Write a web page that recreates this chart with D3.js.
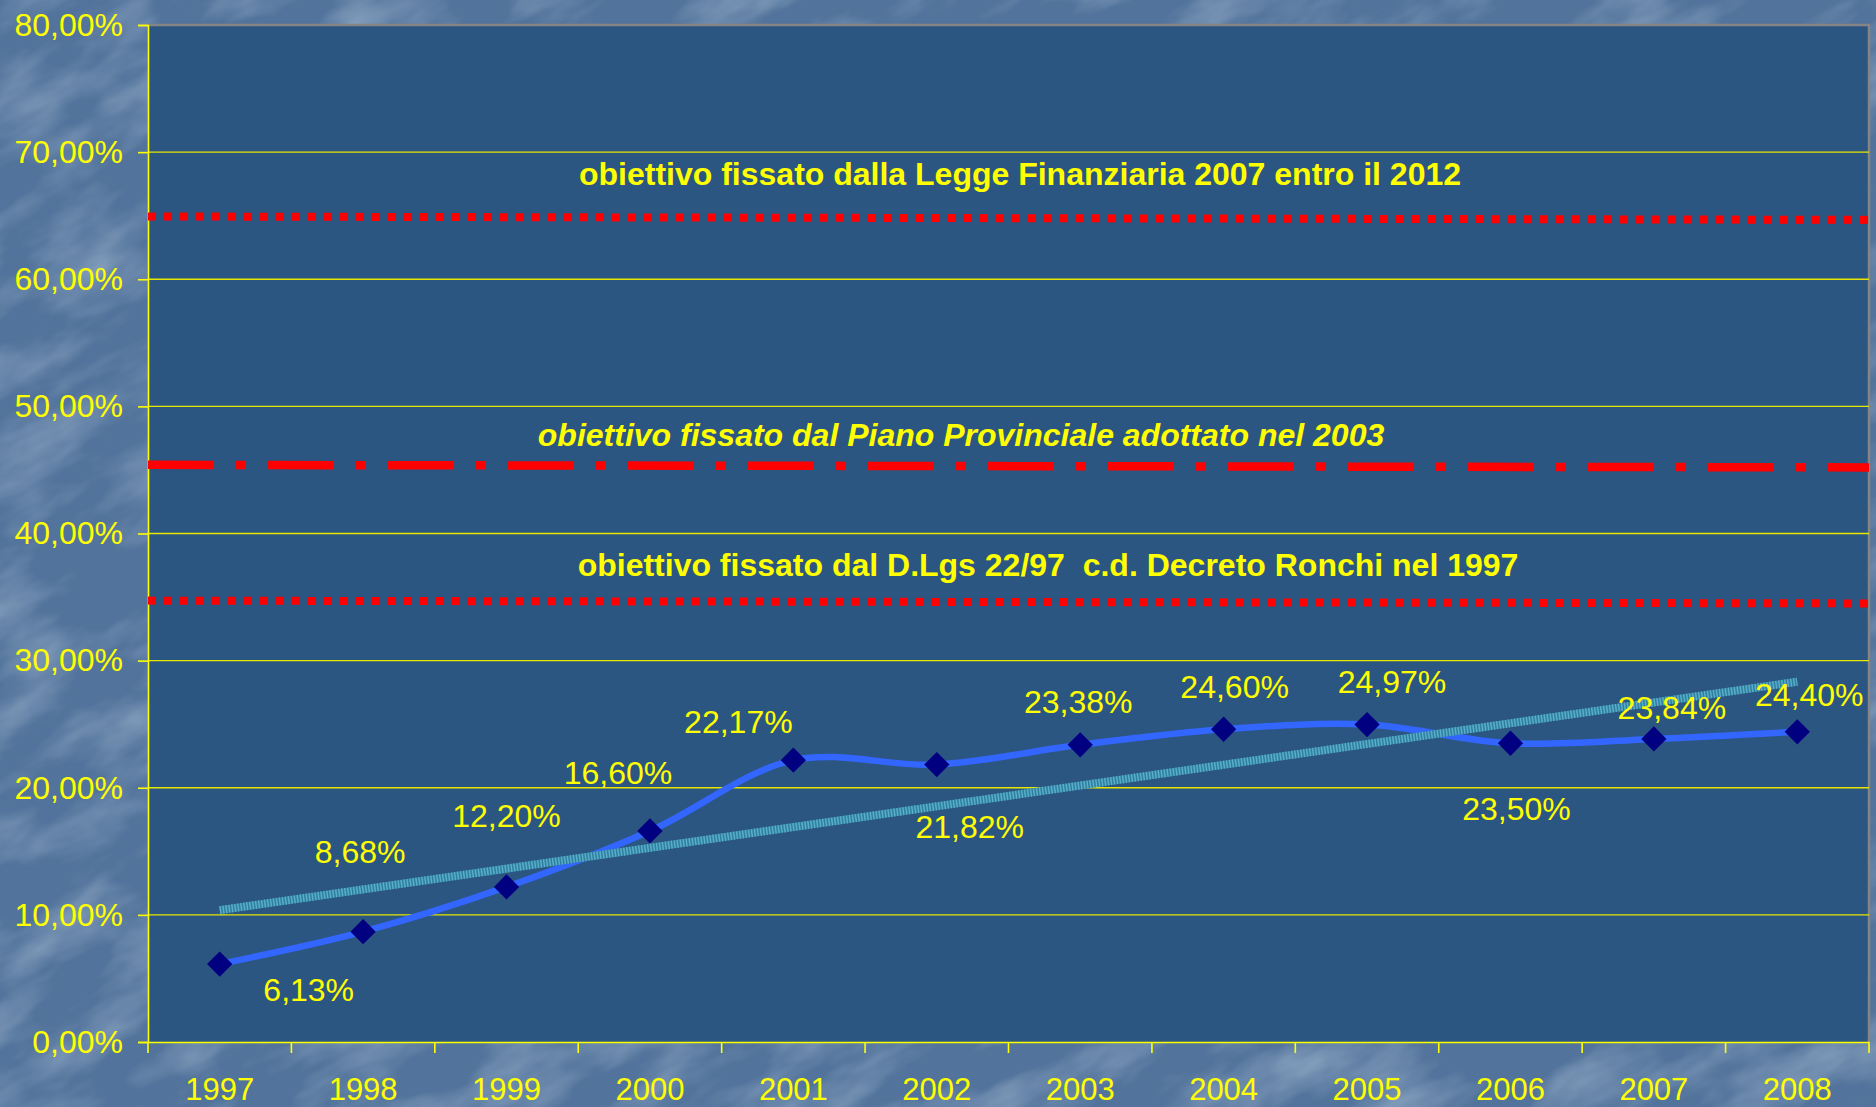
<html>
<head>
<meta charset="utf-8">
<title>Raccolta differenziata 1997-2008</title>
<style>
    body {
        margin: 0;
        padding: 0;
        background: #56779e;
        font-family: "Liberation Sans", Arial, sans-serif;
    }
    svg { display: block; }
</style>
</head>
<body>
<div id="chart"></div>
<script src="https://d3js.org/d3.v7.min.js"></script>
<script>
    // data
    var years = ["1997", "1998", "1999", "2000", "2001", "2002", "2003", "2004", "2005", "2006", "2007", "2008"];
    var values = [6.13, 8.68, 12.20, 16.60, 22.17, 21.82, 23.38, 24.60, 24.97, 23.50, 23.84, 24.40];
    var yTicks = [0, 10, 20, 30, 40, 50, 60, 70, 80];

    // target lines (value at left end, value at right end)
    var targetLabels = [
        "obiettivo fissato dalla Legge Finanziaria 2007 entro il 2012",
        "obiettivo fissato dal Piano Provinciale adottato nel 2003",
        "obiettivo fissato dal D.Lgs 22/97  c.d. Decreto Ronchi nel 1997"
    ];
    var targetStart = [64.94, 45.4, 34.72];
    var targetEnd = [64.67, 45.2, 34.5];

    // label nudges, relative to each point (dx, dy)
    var labelDx = [89, -3, 0, -32, -55, 33, -2, 11, 25, 6, 18, 12];
    var labelDy = [37, -69, -60, -47, -27, 73, -32, -31, -32, 77, -20, -26];

    var width = 1876, height = 1107;
    var margin = {top: 25, left: 148, right: 7, bottom: 65};

    var svg = d3.select("#chart").append("svg")
        .attr("width", width)
        .attr("height", height);

    var defs = svg.append("defs");

    // soft marble background texture
    var tex = defs.append("filter").attr("id", "tex")
        .attr("x", 0).attr("y", 0).attr("width", 1).attr("height", 1);
    tex.append("feTurbulence")
        .attr("type", "fractalNoise")
        .attr("baseFrequency", "0.008 0.02")
        .attr("numOctaves", 4)
        .attr("seed", 7);
    tex.append("feColorMatrix")
        .attr("type", "matrix")
        .attr("values", "0 0 0 0 0.58  0 0 0 0 0.70  0 0 0 0 0.82  0 0 0 0.9 -0.38");

    svg.append("rect")
        .attr("width", width).attr("height", height)
        .attr("fill", "#52739b");
    svg.append("g")
        .attr("transform", "rotate(-28 938 553)")
        .append("rect")
        .attr("x", -500).attr("y", -700)
        .attr("width", width + 1000).attr("height", height + 1400)
        .attr("filter", "url(#tex)");

    var fmt = d3.formatLocale({decimal: ",", thousands: ".", grouping: [3], currency: ["", "€"]}).format(".2f");
    var pct = function (d) { return fmt(d) + "%"; };

    var x = d3.scaleBand()
        .domain(years)
        .range([margin.left, width - margin.right]);

    var y = d3.scaleLinear()
        .domain([0, 80])
        .range([height - margin.bottom, margin.top]);

    var cx = function (i) { return x(years[i]) + x.bandwidth() / 2; };

    // plot area
    svg.append("rect")
        .attr("x", margin.left)
        .attr("y", margin.top)
        .attr("width", width - margin.right - margin.left)
        .attr("height", y(0) - margin.top)
        .attr("fill", "#2c5682");

    // top/right border
    svg.append("path")
        .attr("d", "M" + margin.left + "," + y(80) + "H" + (width - margin.right) + "V" + y(0))
        .attr("fill", "none")
        .attr("stroke", "#858585")
        .attr("stroke-width", 2.5);

    // gridlines
    svg.append("g")
        .selectAll("line")
        .data(yTicks.filter(function (d) { return d > 0 && d < 80; }))
        .enter()
        .append("line")
        .attr("x1", margin.left)
        .attr("x2", width - margin.right)
        .attr("y1", function (d) { return y(d); })
        .attr("y2", function (d) { return y(d); })
        .attr("stroke", "#e6e600")
        .attr("stroke-width", 1.4);

    // y axis
    var yAxis = svg.append("g")
        .attr("transform", "translate(" + margin.left + ",0)")
        .call(d3.axisLeft(y).tickValues(yTicks).tickSize(10).tickPadding(15).tickFormat(pct));
    yAxis.select(".domain").attr("stroke", "#ffff00").attr("stroke-width", 1.6);
    yAxis.selectAll(".tick line").attr("stroke", "#ffff00").attr("stroke-width", 1.6);
    yAxis.selectAll("text")
        .attr("fill", "#ffff00")
        .style("font-size", "32px")
        .style("font-family", "'Liberation Sans', Arial, sans-serif");

    // x axis: labels centered, ticks on category boundaries
    var xAxis = svg.append("g")
        .attr("transform", "translate(0," + y(0) + ")")
        .call(d3.axisBottom(x).tickSize(0).tickPadding(36));
    xAxis.select(".domain").attr("stroke", "#ffff00").attr("stroke-width", 1.6);
    xAxis.selectAll("text")
        .attr("fill", "#ffff00")
        .style("font-size", "31px")
        .style("font-family", "'Liberation Sans', Arial, sans-serif");
    xAxis.selectAll(".bound")
        .data(years.map(function (d) { return x(d); }).concat([x.range()[1]]))
        .enter()
        .append("line")
        .attr("class", "bound")
        .attr("x1", function (d) { return d; })
        .attr("x2", function (d) { return d; })
        .attr("y1", 0)
        .attr("y2", 11)
        .attr("stroke", "#ffff00")
        .attr("stroke-width", 1.6);

    // target lines
    var dashes = ["8,8", "65,23,9,23", "8,8"];
    var dashW = [8, 8.5, 8];
    svg.append("g")
        .selectAll("line")
        .data(targetLabels)
        .enter()
        .append("line")
        .attr("x1", margin.left)
        .attr("x2", width - margin.right)
        .attr("y1", function (d, i) { return y(targetStart[i]); })
        .attr("y2", function (d, i) { return y(targetEnd[i]); })
        .attr("stroke", "#ff0000")
        .attr("stroke-width", function (d, i) { return dashW[i]; })
        .attr("stroke-dasharray", function (d, i) { return dashes[i]; });

    var tx = [1020, 961, 1048];
    var tdy = [-31, -19, -25];
    svg.append("g")
        .selectAll("text")
        .data(targetLabels)
        .enter()
        .append("text")
        .attr("x", function (d, i) { return tx[i]; })
        .attr("y", function (d, i) { return y(targetStart[i]) + tdy[i]; })
        .attr("text-anchor", "middle")
        .attr("fill", "#ffff00")
        .style("font-size", "32px")
        .style("font-weight", "bold")
        .style("font-style", function (d, i) { return i === 1 ? "italic" : "normal"; })
        .style("white-space", "pre")
        .text(function (d) { return d; });

    // series line (smoothed)
    var line = d3.line()
        .x(function (d, i) { return cx(i); })
        .y(function (d) { return y(d); })
        .curve(d3.curveCatmullRom.alpha(0.5));

    svg.append("path")
        .datum(values)
        .attr("d", line)
        .attr("fill", "none")
        .attr("stroke", "#3366ff")
        .attr("stroke-width", 6.5)
        .attr("stroke-linejoin", "round");

    // linear trend line, least squares over the series
    var idx = d3.range(values.length);
    var mx = d3.mean(idx), my = d3.mean(values);
    var slope = d3.sum(idx, function (i) { return (i - mx) * (values[i] - my); }) /
        d3.sum(idx, function (i) { return (i - mx) * (i - mx); });
    var icpt = my - slope * mx;
    var trend = [0, values.length - 1].map(function (i) { return {i: i, v: icpt + slope * i}; });
    var trendLine = d3.line()
        .x(function (d) { return cx(d.i); })
        .y(function (d) { return y(d.v); });

    svg.append("path")
        .datum(trend)
        .attr("d", trendLine)
        .attr("fill", "none")
        .attr("stroke", "#2f7f9f")
        .attr("stroke-width", 8);
    svg.append("path")
        .datum(trend)
        .attr("d", trendLine)
        .attr("fill", "none")
        .attr("stroke", "#5aaecb")
        .attr("stroke-width", 8)
        .attr("stroke-dasharray", "1.5,1.5");

    // markers
    svg.append("g")
        .selectAll("path")
        .data(values)
        .enter()
        .append("path")
        .attr("d", d3.symbol().type(d3.symbolSquare).size(320))
        .attr("transform", function (d, i) { return "translate(" + cx(i) + "," + y(d) + ") rotate(45)"; })
        .attr("fill", "#000080");

    // data labels
    svg.append("g")
        .selectAll("text")
        .data(values)
        .enter()
        .append("text")
        .attr("x", function (d, i) { return cx(i) + labelDx[i]; })
        .attr("y", function (d, i) { return y(d) + labelDy[i]; })
        .attr("text-anchor", "middle")
        .attr("fill", "#ffff00")
        .style("font-size", "32px")
        .text(pct);
</script>
</body>
</html>
